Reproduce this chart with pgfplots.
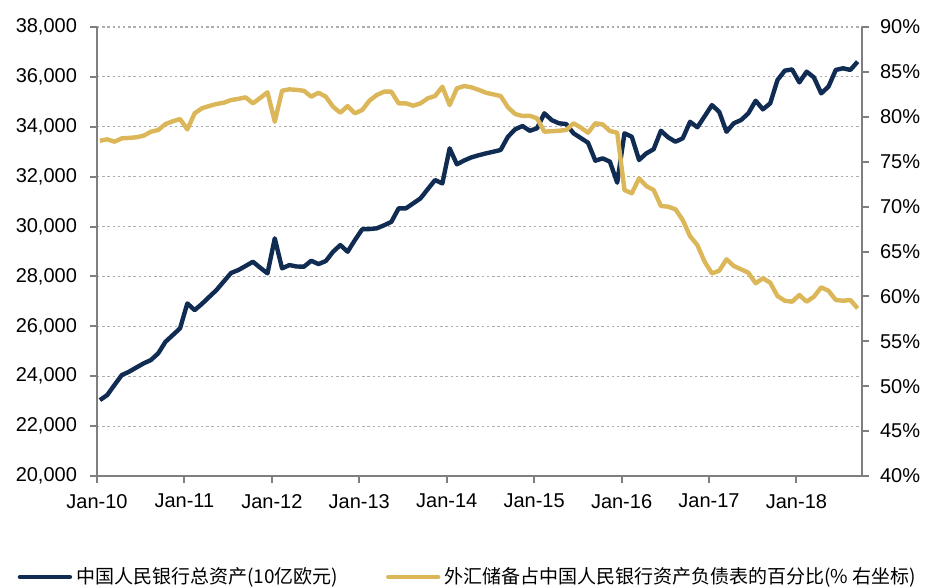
\documentclass[border=0pt]{standalone}
\usepackage{pgfplots}
\usepackage{pgfplotstable}
\pgfplotsset{compat=1.18}
\usepackage{fontspec}
\setmainfont{Liberation Sans}
\newfontfamily\cjk{Noto Sans CJK SC}
\definecolor{navyc}{HTML}{102C53}
\definecolor{goldc}{HTML}{DCB75A}
\definecolor{axisc}{HTML}{7F7F7F}
\definecolor{gridc}{HTML}{ADADAD}

\pgfplotstableread{
i v
0 23044
1 23245
2 23650
3 24046
4 24180
5 24350
6 24515
7 24650
8 24917
9 25380
10 25650
11 25920
12 26920
13 26650
14 26900
15 27180
16 27455
17 27800
18 28140
19 28256
20 28420
21 28590
22 28350
23 28124
24 29527
25 28325
26 28456
27 28400
28 28390
29 28630
30 28497
31 28617
32 28990
33 29260
34 28990
35 29460
36 29890
37 29900
38 29930
39 30050
40 30190
41 30730
42 30730
43 30930
44 31130
45 31500
46 31865
47 31730
48 33135
49 32495
50 32650
51 32775
52 32860
53 32935
54 33000
55 33070
56 33600
57 33900
58 34030
59 33840
60 33940
61 34540
62 34270
63 34140
64 34110
65 33740
66 33550
67 33360
68 32640
69 32735
70 32600
71 31760
72 33740
73 33600
74 32670
75 32935
76 33100
77 33840
78 33575
79 33400
80 33540
81 34200
82 33980
83 34420
84 34870
85 34600
86 33800
87 34140
88 34270
89 34540
90 35045
91 34700
92 34940
93 35875
94 36250
95 36300
96 35780
97 36210
98 35980
99 35340
100 35610
101 36280
102 36345
103 36280
104 36610
}\navydata

\pgfplotstableread{
i v
0 77.34
1 77.49
2 77.23
3 77.6
4 77.65
5 77.72
6 77.9
7 78.34
8 78.53
9 79.2
10 79.5
11 79.75
12 78.6
13 80.39
14 80.95
15 81.2
16 81.43
17 81.57
18 81.87
19 82.0
20 82.17
21 81.5
22 82.1
23 82.73
24 79.45
25 82.9
26 83.06
27 83.0
28 82.9
29 82.24
30 82.68
31 82.24
32 81.12
33 80.46
34 81.2
35 80.39
36 80.76
37 81.8
38 82.43
39 82.8
40 82.8
41 81.5
42 81.5
43 81.24
44 81.5
45 82.06
46 82.32
47 83.35
48 81.31
49 83.17
50 83.43
51 83.28
52 83.0
53 82.68
54 82.5
55 82.32
56 81.06
57 80.31
58 80.09
59 80.12
60 79.83
61 78.34
62 78.4
63 78.45
64 78.53
65 79.28
66 78.8
67 78.23
68 79.28
69 79.16
70 78.42
71 78.23
72 71.85
73 71.48
74 73.15
75 72.29
76 71.85
77 70.07
78 69.99
79 69.7
80 68.5
81 66.7
82 65.72
83 63.86
84 62.57
85 62.86
86 64.13
87 63.39
88 63.02
89 62.64
90 61.46
91 62.02
92 61.53
93 60.04
94 59.52
95 59.41
96 60.16
97 59.41
98 59.97
99 61.01
100 60.63
101 59.6
102 59.52
103 59.6
104 58.67
}\golddata

\begin{document}
\begin{tikzpicture}
\path[use as bounding box] (-48.5pt,-55pt) rectangle (414pt,238pt);
\pgfplotsset{
  common/.style={
    scale only axis, width=382.5pt, height=224.5pt,
    xmin=-0.4, xmax=104.6,
    font=\fontsize{10}{12}\selectfont,
    /pgf/number format/assume math mode=true,
    axis line style={axisc, line width=1pt},
    tick style={axisc, line width=1pt},
    tick align=outside, major tick length=3.5pt,
  }
}
\begin{axis}[common,
  axis x line*=bottom, axis y line*=left,
  ymin=20000, ymax=38000, ytick={20000,22000,...,38000},
  /pgf/number format/1000 sep={,}, scaled y ticks=false,
  ymajorgrids, major grid style={gridc, line width=0.6pt, dash pattern=on 1.2pt off 1.4pt},
  xtick={-0.4,11.6,23.6,35.6,47.6,59.6,71.6,83.6,95.6},
  xticklabels={Jan-10,Jan-11,Jan-12,Jan-13,Jan-14,Jan-15,Jan-16,Jan-17,Jan-18},
  yticklabel style={xshift=-3pt},
  xticklabel style={yshift=-2pt},
]
\addplot[navyc, line width=2.2pt, line join=round, no markers] table[x=i, y=v]{\navydata};
\end{axis}
\begin{axis}[common,
  hide x axis, axis y line*=right,
  ymin=40, ymax=90, ytick={40,45,...,90},
  yticklabel={\pgfmathprintnumber{\tick}\%},
  yticklabel style={xshift=2pt},
  legend columns=2,
  legend style={draw=none, fill=none, at={(axis description cs:-0.112,-0.225)}, anchor=west,
    font=\cjk\fontsize{9.5}{11}\selectfont,
    /tikz/every even column/.append style={column sep=22pt}},
  legend cell align=left,
  legend image code/.code={\draw[#1, line cap=round] (0pt,0pt) -- (25pt,0pt);},
]
\addlegendimage{navyc, line width=2.2pt}
\addlegendentry{中国人民银行总资产(10亿欧元)}
\addplot[goldc, line width=2.2pt, line join=round, no markers] table[x=i, y=v]{\golddata};
\addlegendentry{外汇储备占中国人民银行资产负债表的百分比(\% 右坐标)}
\end{axis}
\end{tikzpicture}
\end{document}
